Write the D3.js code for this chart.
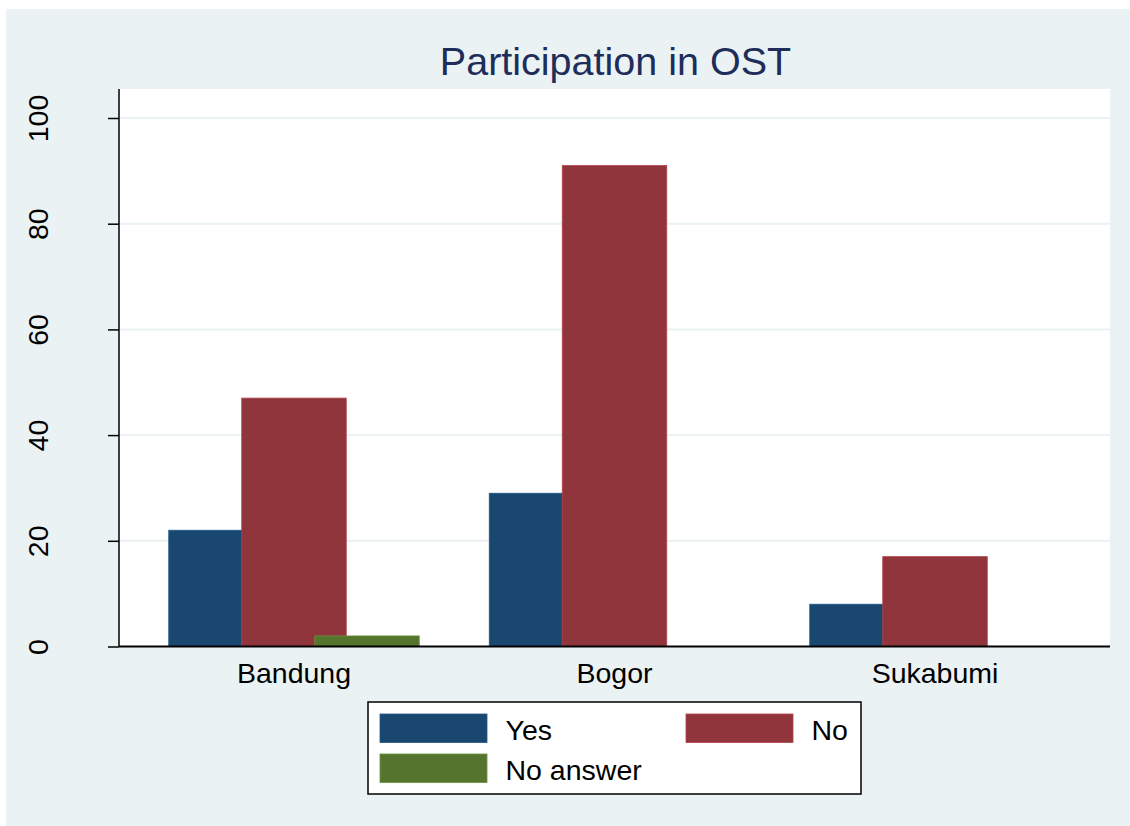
<!DOCTYPE html>
<html>
<head>
<meta charset="utf-8">
<script src="https://cdn.jsdelivr.net/npm/d3@7"></script>
<style>
    body { margin: 0; background: #fff; }
    text { font-family: 'Liberation Sans', Arial, sans-serif; }
</style>
</head>
<body>
<div id="chart"></div>
<script>
//Datos
const regiones = ['Bandung', 'Bogor', 'Sukabumi'];
const series = ['Yes', 'No', 'No answer'];
const valoresYes = [22, 29, 8];
const valoresNo = [47, 91, 17];
const valoresNoAnswer = [2, 0, 0];
const yTicks = [0, 20, 40, 60, 80, 100];
const titulo = 'Participation in OST';

//Colores fijos
const COLOR_BG = '#EAF2F3',
COLOR_YES = '#1A476F',
COLOR_NO = '#90353B',
COLOR_NA = '#55752F',
COLOR_TITLE = '#1E2D59';

let colores = [COLOR_YES, COLOR_NO, COLOR_NA];
let valores = [valoresYes, valoresNo, valoresNoAnswer];

let width = 1130, height = 826;
let plot = {left: 119, right: 1110, top: 89, bottom: 646.5};

let svg = d3.select('#chart')
    .append('svg')
        .attr('width', width)
        .attr('height', height);

//Fondo
svg.append('rect')
    .attr('x', 6)
    .attr('y', 9)
    .attr('width', width - 6)
    .attr('height', height - 9)
    .attr('fill', COLOR_BG);

svg.append('rect')
    .attr('x', plot.left)
    .attr('y', plot.top)
    .attr('width', plot.right - plot.left)
    .attr('height', plot.bottom - plot.top)
    .attr('fill', '#fff');

//Escalas
let x = d3.scalePoint()
    .domain(regiones)
    .range([plot.left, plot.right])
    .padding(0.546);

let xInner = d3.scalePoint()
    .domain(series)
    .range([-73, 73]);

let barWidth = 104.5;

let y = d3.scaleLinear()
    .domain([0, 100])
    .range([plot.bottom, 118]);

//Rejilla
svg.append('g')
    .selectAll('line')
    .data(yTicks.filter(function(d) { return d > 0; }))
    .enter()
    .append('line')
    .attr('x1', plot.left)
    .attr('x2', plot.right)
    .attr('y1', function(d) { return y(d); })
    .attr('y2', function(d) { return y(d); })
    .attr('stroke', COLOR_BG)
    .attr('stroke-width', 2);

//Barras
series.forEach(function(s, i) {
    let datos = regiones.map(function(r, j) { return {region: r, value: valores[i][j]}; });
    svg.append('g')
        .selectAll('rect')
        .data(datos.filter(function(d) { return d.value > 0; }))
        .enter()
        .append('rect')
        .attr('x', function(d) { return x(d.region) + xInner(s) - barWidth / 2; })
        .attr('y', function(d) { return y(d.value); })
        .attr('width', barWidth)
        .attr('height', function(d) { return y(0) - y(d.value); })
        .attr('fill', colores[i])
        .attr('stroke', d3.color(colores[i]).brighter(0.6))
        .attr('stroke-width', 0.8);
});

//Eje Y
let yAxis = function(g) {
    g.call(d3.axisLeft(y).tickValues(yTicks).tickSize(11).tickPadding(0).tickFormat(''));
    g.call(function(g) { g.select('.domain').attr('d', 'M0,' + plot.top + 'V' + plot.bottom).attr('stroke-width', 1.5); });
    g.call(function(g) { g.selectAll('.tick line').attr('stroke-width', 1.5); });
    g.selectAll('.tick')
        .append('text')
        .attr('transform', 'translate(-71,0) rotate(-90)')
        .attr('text-anchor', 'middle')
        .attr('fill', '#000')
        .attr('font-size', 28.5)
        .text(function(d) { return d; });
};

svg.append('g')
    .attr('transform', 'translate(' + plot.left + ',0)')
    .call(yAxis);

//Eje X
svg.append('line')
    .attr('x1', plot.left)
    .attr('x2', plot.right)
    .attr('y1', plot.bottom)
    .attr('y2', plot.bottom)
    .attr('stroke', '#000')
    .attr('stroke-width', 2);

svg.append('g')
    .selectAll('text')
    .data(regiones)
    .enter()
    .append('text')
    .attr('x', function(d) { return x(d); })
    .attr('y', 683)
    .attr('text-anchor', 'middle')
    .attr('font-size', 28.5)
    .text(function(d) { return d; });

//Título
svg.append('text')
    .attr('x', (plot.left + plot.right) / 2 + 1)
    .attr('y', 75)
    .attr('text-anchor', 'middle')
    .attr('font-size', 39.5)
    .attr('fill', COLOR_TITLE)
    .text(titulo);

//Leyenda
let legend = svg.append('g');

legend.append('rect')
    .attr('x', 368)
    .attr('y', 702)
    .attr('width', 493)
    .attr('height', 92)
    .attr('fill', '#fff')
    .attr('stroke', '#000')
    .attr('stroke-width', 1.5);

let legendPos = [{x: 380, y: 714}, {x: 686, y: 714}, {x: 380, y: 754}];

let items = legend.selectAll('.item')
    .data(series)
    .enter()
    .append('g')
    .attr('class', 'item')
    .attr('transform', function(d, i) { return 'translate(' + legendPos[i].x + ',' + legendPos[i].y + ')'; });

items.append('rect')
    .attr('width', 107)
    .attr('height', 28.5)
    .attr('fill', function(d, i) { return colores[i]; })
    .attr('stroke', function(d, i) { return d3.color(colores[i]).brighter(0.6); })
    .attr('stroke-width', 0.8);

items.append('text')
    .attr('x', 125.5)
    .attr('y', 26)
    .attr('font-size', 28.5)
    .text(function(d) { return d; });
</script>
</body>
</html>
